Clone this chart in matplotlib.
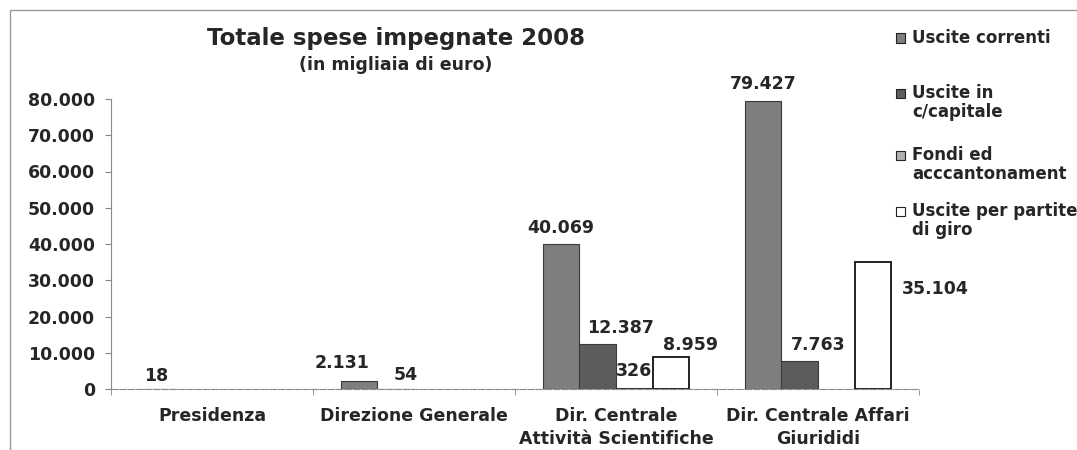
import numpy as np
import matplotlib
matplotlib.use("Agg")
import matplotlib.pyplot as plt
from matplotlib.patches import Rectangle

# dati (migliaia di euro)
categorie = ["Presidenza", "Direzione Generale",
             "Dir. Centrale\nAttività Scientifiche", "Dir. Centrale Affari\nGiurididi"]
serie = ["Uscite correnti", "Uscite in\nc/capitale", "Fondi ed\nacccantonament",
         "Uscite per partite\ndi giro"]
uscite_correnti = [18, 2131, 40069, 79427]
uscite_capitale = [np.nan, 54, 12387, 7763]
fondi = [np.nan, np.nan, 326, np.nan]
partite_giro = [np.nan, np.nan, 8959, 35104]
y_ticks = [0, 10000, 20000, 30000, 40000, 50000, 60000, 70000, 80000]

valori = [uscite_correnti, uscite_capitale, fondi, partite_giro]
colori = ["#7e7e7e", "#5c5c5c", "#b0b0b0", "white"]
bordi = ["#3a3a3a", "#3a3a3a", "#3a3a3a", "#111111"]
# spostamenti delle etichette (pixel) rispetto alla cima della barra
offs = [
    [(-1, 13), (-17, 18), (0, 16), (0, 17)],
    [None, (10, 14), (23, 16), (19, 16)],
    [None, None, (0, 17), None],
    [None, None, (19, 12), (62, -27)],
]

testo = "#262626"
fs = 12.5
plt.rcParams["font.family"] = "DejaVu Sans"
plt.rcParams["font.weight"] = "bold"

fig = plt.figure(figsize=(10.77, 4.5), dpi=100)
W, H = 1077, 450

def fx(px):
    return px / W

def fy(py):
    return 1 - py / H

# cornice
fig.patches.append(Rectangle((fx(10), fy(460)), fx(1100) - fx(10), fy(10) - fy(460),
                             transform=fig.transFigure, fill=False,
                             edgecolor="#9a9a9a", linewidth=1.0))

ax = fig.add_axes([fx(111), fy(389), fx(919) - fx(111), fy(99) - fy(389)])

x = np.arange(len(categorie))
w = 1 / 5.5
for i, vals in enumerate(valori):
    pos = x + (i - 1.5) * w
    ax.bar(pos, vals, width=w, color=colori[i], edgecolor=bordi[i],
           linewidth=1.3 if i == 3 else 0.8, zorder=2)
    for j, v in enumerate(vals):
        if np.isnan(v) or offs[i][j] is None:
            continue
        lab = f"{int(v):,}".replace(",", ".")
        ax.annotate(lab, (pos[j], v), xytext=offs[i][j], textcoords="offset pixels",
                    ha="center", va="center", fontsize=fs, fontweight="bold", color=testo)

ax.set_xlim(-0.5, 3.5)
ax.set_ylim(0, 80000)
ax.set_yticks(y_ticks)
ax.set_yticklabels([f"{t:,}".replace(",", ".") for t in y_ticks])
ax.set_xticks(x)
ax.set_xticklabels(categorie, linespacing=1.35)
ax.set_xticks(np.arange(-0.5, 4, 1), minor=True)
ax.tick_params(axis="x", which="major", length=0, pad=13, labelsize=fs, labelcolor=testo)
ax.tick_params(axis="x", which="minor", length=4, color="#888888", direction="out")
ax.tick_params(axis="y", length=4, color="#888888", pad=7.5, labelsize=fs, labelcolor=testo)
for s in ["top", "right"]:
    ax.spines[s].set_visible(False)
ax.spines["left"].set_color("#8a8a8a")
ax.spines["bottom"].set_color("#8a8a8a")
ax.spines["bottom"].set_linestyle((0, (6, 1.5)))

# titolo
fig.text(fx(396), fy(38), "Totale spese impegnate 2008", ha="center", va="center",
         fontsize=16.5, fontweight="bold", color=testo)
fig.text(fx(396), fy(65), "(in migliaia di euro)", ha="center", va="center",
         fontsize=fs, fontweight="bold", color=testo)

# legenda
leg_y = [38, 93, 155, 211]
for i, lab in enumerate(serie):
    y0 = leg_y[i]
    fig.patches.append(Rectangle((fx(896), fy(y0 + 4.5)), fx(9), 9 / H,
                                 transform=fig.transFigure, facecolor=colori[i],
                                 edgecolor="#222222", linewidth=0.8))
    for k, riga in enumerate(lab.split("\n")):
        fig.text(fx(912), fy(y0 + 19 * k), riga, ha="left", va="center",
                 fontsize=12, fontweight="bold", color=testo)

fig.savefig("out.png", dpi=100)
